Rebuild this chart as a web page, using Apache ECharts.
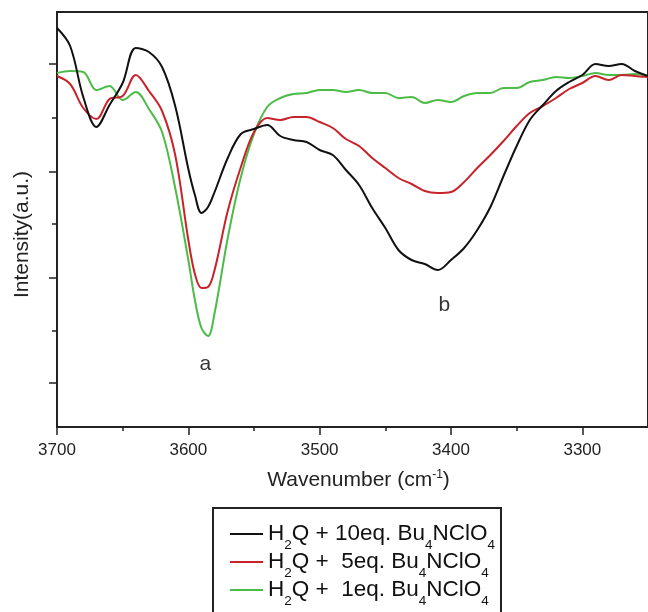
<!DOCTYPE html>
<html lang="en">

<head>
    <meta charset="UTF-8">
    <title>IR spectra</title>
    <script src="https://cdn.jsdelivr.net/npm/echarts@6/dist/echarts.min.js"></script>
</head>

<body style="margin:0">

    <div id="main" style="width: 648px;height: 612px;"></div>

    <script type="text/javascript">
        // wavenumber (cm-1)
        var wavenumber = [3700, 3690, 3680, 3670, 3660, 3650, 3640, 3630, 3620, 3610, 3600,
            3595, 3590, 3585, 3580,
            3570, 3560, 3550, 3540, 3530, 3520, 3510, 3500, 3490, 3480, 3470, 3460, 3450,
            3440, 3430, 3420, 3410, 3400, 3390, 3380, 3370, 3360, 3350, 3340, 3330, 3320,
            3310, 3300, 3290, 3280, 3270, 3260, 3250];

        // intensity (a.u.)
        var eq10 = [3.99, 3.81, 3.30, 3.00, 3.22, 3.44, 3.79, 3.75, 3.60, 3.21, 2.58,
            2.32, 2.14, 2.20, 2.35,
            2.69, 2.93, 2.98, 3.02, 2.91, 2.87, 2.85, 2.77, 2.72, 2.57, 2.42, 2.19, 1.99,
            1.77, 1.67, 1.63, 1.57, 1.67, 1.79, 1.97, 2.20, 2.51, 2.81, 3.07, 3.22, 3.36,
            3.45, 3.52, 3.63, 3.61, 3.63, 3.56, 3.51];
        var eq5 = [3.51, 3.43, 3.19, 3.08, 3.28, 3.31, 3.52, 3.36, 3.16, 2.72, 1.87,
            1.53, 1.39, 1.40, 1.57,
            2.16, 2.60, 2.95, 3.09, 3.07, 3.10, 3.10, 3.05, 2.99, 2.88, 2.81, 2.69, 2.59,
            2.49, 2.43, 2.36, 2.34, 2.35, 2.45, 2.59, 2.72, 2.86, 3.01, 3.14, 3.21, 3.29,
            3.38, 3.44, 3.51, 3.47, 3.52, 3.51, 3.50];
        var eq1 = [3.54, 3.56, 3.55, 3.37, 3.41, 3.27, 3.35, 3.18, 2.95, 2.39, 1.67,
            1.27, 0.99, 0.91, 1.14,
            1.89, 2.50, 2.93, 3.20, 3.29, 3.33, 3.34, 3.37, 3.37, 3.35, 3.37, 3.34, 3.34,
            3.29, 3.30, 3.24, 3.27, 3.25, 3.31, 3.34, 3.34, 3.39, 3.39, 3.45, 3.47, 3.50,
            3.49, 3.51, 3.54, 3.52, 3.52, 3.53, 3.51];

        var seriesNames = ['H2Q + 10eq. Bu4NClO4', 'H2Q +  5eq. Bu4NClO4', 'H2Q +  1eq. Bu4NClO4'];
        var seriesColors = ['#111111', '#c8232a', '#4cbb47'];

        // peak labels
        var peakLabels = [
            { name: 'a', value: [3587, 0.63] },
            { name: 'b', value: [3405, 1.22] }
        ];

        // axis ticks
        var xMajor = [3700, 3600, 3500, 3400, 3300];
        var xMinor = [3650, 3550, 3450, 3350];
        var yMajor = [0.44, 1.49, 2.55, 3.63];
        var yMinor = [0.96, 2.03, 3.09];

        var font = 'Liberation Sans, Arial, sans-serif';

        function pairs(ys) {
            return wavenumber.map(function (x, i) { return [x, ys[i]]; });
        }

        function richName(name) {
            // H2Q ... Bu4NClO4 with subscripts
            var m = name.match(/^H2Q \+(\s+)(\d+)eq\. Bu4NClO4$/);
            return 'H{s|2}Q +' + m[1] + m[2] + 'eq. Bu{s|4}NClO{s|4}';
        }

        var myChart = echarts.init(document.getElementById('main'));

        var xBase = {
            type: 'value', min: 3250, max: 3700, inverse: true, position: 'bottom',
            splitLine: { show: false }
        };
        var yBase = {
            type: 'value', min: 0, max: 4.15, position: 'left',
            splitLine: { show: false }
        };

        var option = {
            animation: false,
            backgroundColor: '#fff',
            grid: {
                left: 57, top: 12, width: 594, height: 415,
                show: true, borderColor: '#222', borderWidth: 2
            },
            legend: {
                data: seriesNames,
                orient: 'vertical',
                left: 213,
                top: 508,
                height: 200,
                padding: [8, 6, 40, 17],
                itemGap: -8,
                itemWidth: 33,
                itemHeight: 2,
                icon: 'rect',
                borderColor: '#222',
                borderWidth: 2,
                formatter: richName,
                textStyle: {
                    fontFamily: font, fontSize: 22.5, color: '#111',
                    rich: {
                        s: { fontFamily: font, fontSize: 13.5, lineHeight: 13, padding: [22, 0, 0, 0], color: '#111' }
                    }
                }
            },
            xAxis: [
                Object.assign({}, xBase, {
                    name: 'Wavenumber (cm{sup|-1})',
                    nameLocation: 'middle',
                    nameGap: 43,
                    nameTextStyle: {
                        fontFamily: font, fontSize: 21, color: '#222', padding: [0, 0, 0, 12],
                        rich: { sup: { fontFamily: font, fontSize: 12, lineHeight: 12, padding: [0, 0, 12, 0], color: '#222' } }
                    },
                    axisLine: { show: true, lineStyle: { color: '#222', width: 2 } },
                    axisTick: { show: true, length: 8, customValues: xMajor, lineStyle: { color: '#222', width: 1.5 } },
                    axisLabel: {
                        customValues: xMajor, fontFamily: font, fontSize: 17, color: '#222', margin: 15,
                        formatter: function (v) { return String(v); }
                    }
                }),
                Object.assign({}, xBase, {
                    axisLine: { show: false },
                    axisTick: { show: true, length: 4, customValues: xMinor, lineStyle: { color: '#222', width: 1.5 } },
                    axisLabel: { show: false }
                })
            ],
            yAxis: [
                Object.assign({}, yBase, {
                    name: 'Intensity(a.u.)',
                    nameLocation: 'middle',
                    nameGap: 24,
                    nameTextStyle: { fontFamily: font, fontSize: 21, color: '#222', padding: [0, 30, 0, 0] },
                    axisLine: { show: true, lineStyle: { color: '#222', width: 2 } },
                    axisTick: { show: true, length: 8, customValues: yMajor, lineStyle: { color: '#222', width: 1.5 } },
                    axisLabel: { show: false }
                }),
                Object.assign({}, yBase, {
                    axisLine: { show: false },
                    axisTick: { show: true, length: 5, customValues: yMinor, lineStyle: { color: '#222', width: 1.5 } },
                    axisLabel: { show: false }
                })
            ],
            series: [eq10, eq5, eq1].map(function (ys, i) {
                return {
                    name: seriesNames[i],
                    type: 'line',
                    data: pairs(ys),
                    symbol: 'none',
                    smooth: 0.35,
                    color: seriesColors[i],
                    lineStyle: { width: 2, color: seriesColors[i] },
                    z: 10 - i
                };
            }).concat([{
                type: 'scatter',
                data: peakLabels,
                symbolSize: 0,
                silent: true,
                itemStyle: { color: '#000' },
                label: {
                    show: true, position: 'inside', formatter: '{b}',
                    fontFamily: font, fontSize: 21, color: '#000'
                }
            }])
        };

        myChart.setOption(option);
    </script>

</body>

</html>
